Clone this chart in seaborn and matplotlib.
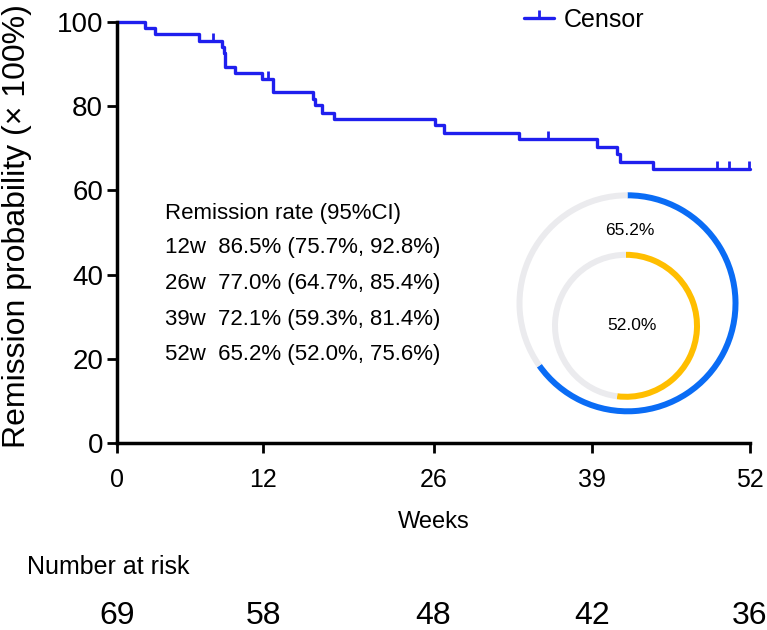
import numpy as np
import matplotlib
matplotlib.use("Agg")
import matplotlib.pyplot as plt
from matplotlib.lines import Line2D
from matplotlib.path import Path
from matplotlib.transforms import blended_transform_factory
import seaborn as sns

# Kaplan-Meier steps (weeks, remission %)
step_weeks = [0, 2.3, 3.1, 6.75, 8.6, 8.75, 8.9, 9.7, 11.9, 12.85, 16.1, 16.3,
              16.8, 17.8, 26.1, 26.9, 33.0, 39.4, 41.1, 41.3, 44.0, 52]
step_surv = [100, 98.6, 97.1, 95.6, 94.1, 92.7, 89.4, 88.0, 86.5, 83.3, 81.6, 80.2,
             78.4, 77.0, 75.5, 73.7, 72.1, 70.3, 68.6, 66.8, 65.2, 65.2]
censor_weeks = [7.9, 12.4, 35.4, 49.3, 50.3, 51.9]

tick_weeks = [0, 12, 26, 39, 52]
at_risk = [69, 58, 48, 42, 36]

rate_weeks = ["12w", "26w", "39w", "52w"]
rate = [86.5, 77.0, 72.1, 65.2]
ci_low = [75.7, 64.7, 59.3, 52.0]
ci_high = [92.8, 85.4, 81.4, 75.6]

line_col = "#1F1FEE"
ring_blue = "#0A6CF5"
ring_gold = "#FFBE00"
ring_grey = "#EBEBEE"

sns.set_style("ticks")
plt.rcParams["font.family"] = ["Liberation Sans", "DejaVu Sans"]
plt.rcParams["text.color"] = "black"
plt.rcParams["axes.labelcolor"] = "black"

W, H = 767, 630
fig = plt.figure(figsize=(W / 100, H / 100), dpi=100)
ax = fig.add_axes([117 / W, (H - 443) / H, 633 / W, 421 / H])

# survival curve
sns.lineplot(x=step_weeks, y=step_surv, drawstyle="steps-post", color=line_col,
             lw=2.4, estimator=None, ax=ax, clip_on=False)

# censor marks: short tick pointing up
tick_up = Path([(0, 0), (0, 1)], [Path.MOVETO, Path.LINETO])
idx = np.searchsorted(step_weeks, censor_weeks, side="right") - 1
censor_lvl = np.array(step_surv)[idx]
ax.plot(censor_weeks, censor_lvl, ls="none", marker=tick_up, ms=11, mew=2,
        color=line_col, clip_on=False)

ax.set_xlim(0, 52)
ax.set_ylim(0, 100)
ax.set_xticks(tick_weeks)
ax.set_yticks([0, 20, 40, 60, 80, 100])
sns.despine(ax=ax)
for s in ["left", "bottom"]:
    ax.spines[s].set_linewidth(2.5)
    ax.spines[s].set_color("black")
ax.tick_params(axis="both", direction="out", length=7, width=2, colors="black")
ax.tick_params(axis="y", labelsize=20, pad=3)
ax.tick_params(axis="x", labelsize=18, pad=11)

ax.set_ylabel("Remission probability (× 100%)", fontsize=23)
ax.yaxis.set_label_coords(-0.135, 0.515)
ax.set_xlabel("Weeks", fontsize=17)
ax.xaxis.set_label_coords(0.5, -0.162)

# legend
h = Line2D([], [], color=line_col, lw=2.4, marker=tick_up, ms=11, mew=2)
fig.legend([h], ["Censor"], loc="center left", bbox_to_anchor=(524 / W, 1 - 20 / H),
           frameon=False, fontsize=18, handlelength=1.2, handletextpad=0.4,
           borderpad=0, borderaxespad=0)

# remission rate table
fig.text(165 / W, 1 - 213 / H, "Remission rate (95%CI)", fontsize=16, va="center")
for i, (wk, r, lo, hi) in enumerate(zip(rate_weeks, rate, ci_low, ci_high)):
    fig.text(165 / W, 1 - (248 + 35.5 * i) / H,
             f"{wk}  {r:.1f}% ({lo:.1f}%, {hi:.1f}%)", fontsize=16, va="center")

# number at risk
fig.text(27 / W, 1 - 567 / H, "Number at risk", fontsize=18, va="center")
tr = blended_transform_factory(ax.transData, fig.transFigure)
for wk, n in zip(tick_weeks, at_risk):
    ax.text(wk, 1 - 616 / H, str(n), transform=tr, ha="center", va="center",
            fontsize=23)

# donut rings
din = fig.add_axes([500 / W, (H - 430) / H, 260 / W, 250 / H])
din.pie([rate[-1], 100 - rate[-1]], radius=111, center=(627.5, 326.7), startangle=90,
        counterclock=False, colors=[ring_blue, ring_grey],
        wedgeprops=dict(width=6, edgecolor="none"))
din.pie([ci_low[-1], 100 - ci_low[-1]], radius=74, center=(626, 304.2), startangle=90,
        counterclock=False, colors=[ring_gold, ring_grey],
        wedgeprops=dict(width=6, edgecolor="none"))
din.set_xlim(500, 760)
din.set_ylim(200, 450)
din.set_aspect("equal")
din.axis("off")
din.text(630, 400, f"{rate[-1]:.1f}%", ha="center", va="center", fontsize=12.5)
din.text(631.7, 305, f"{ci_low[-1]:.1f}%", ha="center", va="center", fontsize=12.5)

fig.savefig("out.png", dpi=100)
